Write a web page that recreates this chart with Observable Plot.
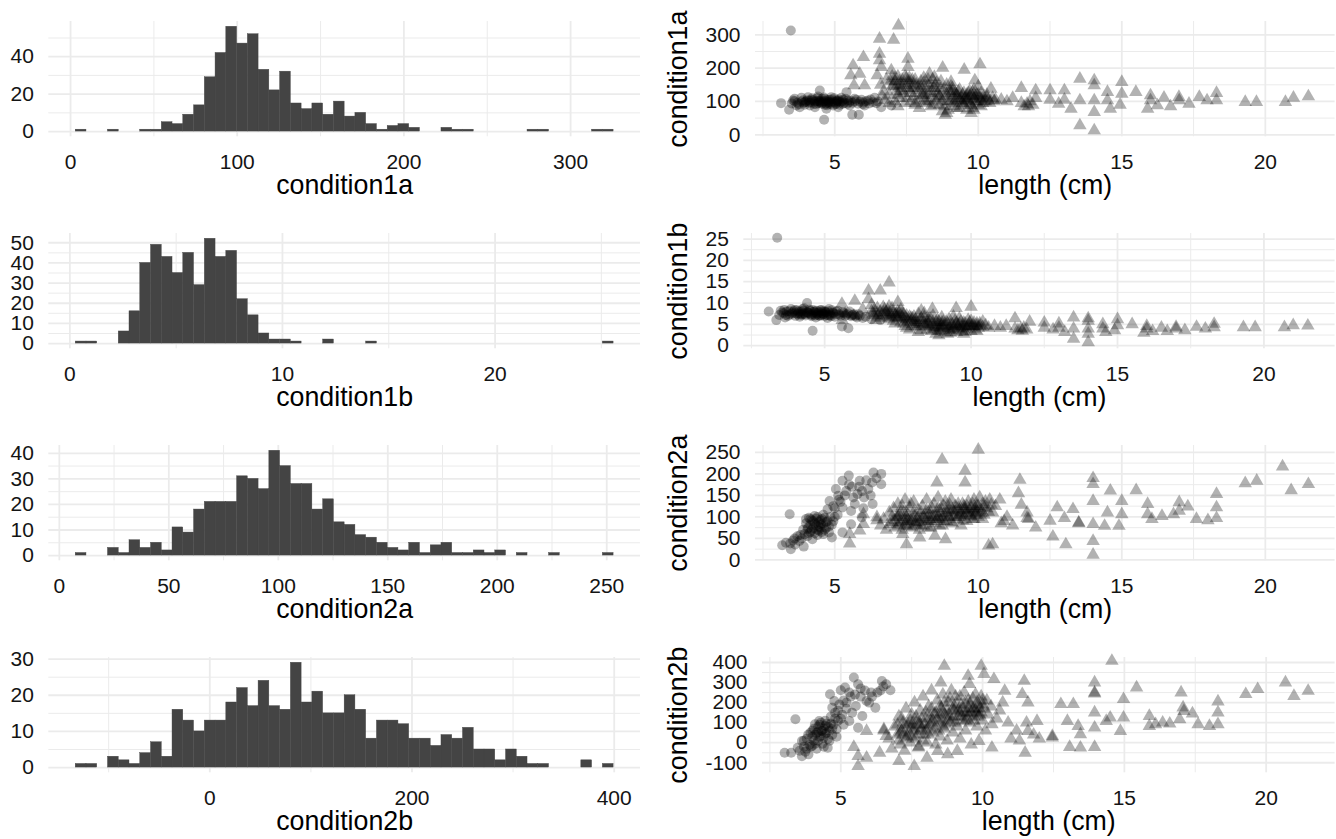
<!DOCTYPE html>
<html><head><meta charset="utf-8">
<script src="https://cdn.jsdelivr.net/npm/d3@7"></script>
<script src="https://cdn.jsdelivr.net/npm/@observablehq/plot@0.6"></script>
<style>
body{margin:0;background:#fff;}
#fig{position:relative;width:1336px;height:839px;overflow:hidden;background:#fff;}
#fig svg{position:absolute;overflow:visible;}
</style></head><body><div id="fig"></div>
<script>
// ---------- histogram data (50 bins each) ----------
const c1aCounts = [1,0,0,1,0,0,1,1,5,4, 9,14,29,42,56,47,52,33,22,32, 15,12,15,9,16,8,10,4,1,3, 4,2,0,0,2,1,1,0,0,0, 0,0,1,1,0,0,0,0,1,1];
const c1aStart = 3.1, c1aWidth = 6.454;
const c1bCounts = [1,1,0,0,6,16,40,49,43,35, 45,29,52,43,46,22,14,5,2,2, 1,0,0,2,0,0,0,1,0,0, 0,0,0,0,0,0,0,0,0,0, 0,0,0,0,0,0,0,0,0,1];
const c1bStart = 0.275, c1bWidth = 0.506;
const c2aCounts = [1,0,0,3,1,6,3,5,2,11, 9,18,21,21,21,31,30,26,41,35, 28,28,18,22,13,12,8,7,5,3, 2,5,1,4,5,1,1,2,1,2, 0,1,0,0,1,0,0,0,0,1];
const c2aStart = 7.48, c2aWidth = 4.913;
const c2bCounts = [1,1,0,3,2,1,4,7,3,16, 13,10,13,13,18,22,17,24,17,16, 29,18,21,15,15,20,16,8,13,13, 12,8,8,6,9,8,11,5,5,2, 5,3,1,1,0,0,0,2,0,1];
const c2bStart = -132.6, c2bWidth = 10.64;

// ---------- scatter data: [length (cm), value] ----------
const s1aCirc = [[3.13,95],[3.47,313],[3.41,75],[3.55,103],[3.67,88],[3.84,111],[3.78,83],[3.96,98],[4.07,113],[4.13,88],[4.25,103],[4.31,83],[4.42,115],[4.48,133],[4.54,93],[4.63,45],[4.65,108],[4.71,78],[4.77,98],[4.88,113],[4.94,88],[5.06,103],[5.12,83],[5.23,111],[5.29,93],[5.41,128],[5.46,103],[5.52,88],[5.61,60],[5.84,60],[5.69,108],[5.81,93],[5.93,105],[6.04,88],[6.16,103],[6.33,98],[6.39,111],[6.62,83],[6.97,88],
[4.0,100],[4.1,96],[4.2,105],[4.3,99],[4.35,92],[4.45,102],[4.5,97],[4.55,108],[4.6,100],[4.7,94],[4.75,104],[4.8,99],[4.85,92],[4.9,106],[5.0,98],[5.05,94],[5.1,102],[5.2,97],[3.9,104],[3.7,96],[3.6,101],[3.5,94],[4.4,110],[4.65,90],[5.3,105],[5.5,98],[5.7,100],[6.0,97],[6.2,94],[6.5,100],
[3.6,108],[3.75,92],[3.85,100],[3.95,90],[4.05,104],[4.15,97],[4.22,110],[4.28,93],[4.38,101],[4.43,95],[4.52,103],[4.58,96],[4.62,112],[4.68,101],[4.73,89],[4.82,105],[4.87,97],[4.92,100],[4.98,110],[5.02,92],[5.08,99],[5.14,106],[5.18,90],[5.26,101],[5.33,96],[5.38,108],[5.44,93],[5.55,102],[5.62,96],[5.75,105],[5.88,99],[5.98,92],[6.08,101],[6.25,106],[6.45,95],[4.12,102],[4.47,99],[4.78,94],[5.15,100],[3.92,96]];
const s1aTri = [[7.22,328],[6.56,288],[7.05,285],[6.56,243],[6.56,223],[6.62,203],[5.64,208],[6.0,233],[7.55,228],[7.55,203],[5.56,178],[5.87,183],[5.67,148],[6.04,148],[6.48,178],[6.97,193],[8.76,201],[9.51,195],[10.06,211],[9.88,163],[8.3,183],[8.47,173],[9.05,158],[10.44,138],
[6.6,150],[6.7,130],[6.8,165],[6.9,120],[7.0,175],[7.0,145],[6.75,105],[6.9,95],[6.65,115],
[7.1,160],[7.15,130],[7.2,175],[7.25,110],[7.3,150],[7.35,165],[7.4,125],[7.45,95],[7.1,100],[7.2,85],[7.3,140],[7.5,170],
[7.55,155],[7.6,135],[7.65,100],[7.7,165],[7.75,115],[7.8,90],[7.85,150],[7.9,125],[7.95,80],[7.6,170],[7.7,140],[8.0,160],
[8.05,135],[8.1,170],[8.15,110],[8.2,95],[8.25,150],[8.3,125],[8.35,85],[8.4,165],[8.45,140],[8.5,105],[8.1,120],[8.3,100],
[8.55,155],[8.6,125],[8.65,90],[8.7,140],[8.75,70],[8.8,115],[8.85,60],[8.9,150],[8.95,100],[9.0,130],[8.6,110],[8.8,85],[8.9,65],
[9.05,145],[9.1,110],[9.15,95],[9.2,125],[9.25,80],[9.3,115],[9.35,135],[9.4,100],[9.45,120],[9.5,90],[9.1,130],[9.3,105],
[9.55,110],[9.6,75],[9.65,125],[9.7,95],[9.75,65],[9.8,115],[9.85,135],[9.9,100],[9.95,120],[10.0,90],[9.6,105],[9.8,80],[10.0,145],[9.7,130],
[10.05,110],[10.1,125],[10.15,95],[10.2,115],[10.25,100],[10.3,120],[10.35,105],[10.4,95],[10.5,110],[10.55,100],[10.6,105],[10.1,85],
[6.95,160],[7.05,150],[7.1,170],[7.15,145],[7.25,160],[7.3,130],[7.4,150],[7.45,175],[7.55,140],[7.6,160],[7.65,125],[7.75,150],[7.8,165],[7.9,140],[7.95,105],[8.0,145],[8.05,120],[8.1,155],[8.2,130],[8.25,165],[8.35,140],[8.4,120],[8.5,150],[8.55,130],[8.65,115],[8.7,160],[8.8,135],[8.9,120],[9.0,100],[9.05,125],[9.1,140],[9.2,105],[9.25,118],[9.3,130],[9.4,110],[9.45,95],[9.5,125],[9.55,100],[9.6,120],[9.65,105],[9.7,115],[9.75,90],[9.8,128],[9.85,108],[9.9,115],[9.95,100],[10.0,120],[10.1,108],[10.2,100],[10.3,112],[7.2,120],[7.5,110],[7.8,95],[8.15,100],[8.45,90],[8.75,100],[9.15,85],[9.35,80],[8.95,75],[9.85,75],
[10.8,105],[11.0,100],[11.2,110],[11.5,140],[11.5,95],[11.6,85],[11.7,93],[11.75,85],[11.8,100],[11.9,90],[12.0,133],[12.0,110],[12.5,133],[12.5,105],[12.8,93],[13.0,133],[13.0,105],[13.23,78],[13.54,168],[13.54,103],[13.54,28],[14.04,163],[14.04,148],[14.04,103],[14.04,68],[14.04,13],[14.5,128],[14.5,103],[14.6,78],[15.0,158],[15.0,123],[14.94,90],[15.49,128],[16.0,118],[16.0,103],[15.9,78],[16.24,88],[16.47,111],[16.7,85],[16.99,113],[17.0,103],[17.34,93],[17.7,113],[17.97,103],[18.3,125],[18.3,103],[19.3,98],[19.69,98],[20.7,98],[20.98,111],[21.5,115]];

const s1bCirc = [[3.09,8.0],[3.38,25.3],[3.35,6.0],[3.45,7.2],[3.5,8.2],[3.6,7.6],[3.65,6.6],[3.7,8.0],[3.8,7.3],[3.85,8.6],[3.9,7.8],[4.0,7.0],[4.05,8.3],[4.1,7.6],[4.15,6.8],[4.2,8.0],[4.25,7.4],[4.3,8.8],[4.35,7.1],[4.4,10.0],[4.45,7.7],[4.5,8.2],[4.55,6.9],[4.59,3.5],[4.6,7.5],[4.65,8.0],[4.7,6.6],[4.75,7.3],[4.8,7.9],[4.85,7.0],[4.9,8.4],[4.95,7.4],[5.0,7.0],[5.05,7.8],[5.1,6.5],[5.15,8.6],[5.2,7.2],[5.3,7.6],[5.35,6.8],[5.4,8.0],[5.5,7.3],[5.59,4.5],[5.6,7.9],[5.7,7.0],[5.81,4.1],[5.8,7.6],[5.9,6.9],[6.0,7.4],[6.1,6.6],[6.2,7.0],[6.3,6.5],[6.4,6.8],[6.6,6.2],[6.9,6.0],
[4.0,7.6],[4.2,7.2],[4.4,7.9],[4.6,8.4],[4.8,7.1],[5.0,8.1],[4.3,7.7],[4.7,7.7],[3.95,8.1],[4.9,7.6],[5.25,8.3],[3.75,7.0],
[3.55,7.8],[3.68,7.2],[3.78,8.1],[3.88,7.5],[3.98,8.4],[4.08,7.3],[4.12,8.0],[4.18,7.5],[4.28,8.2],[4.33,7.4],[4.42,7.7],[4.48,8.5],[4.52,7.3],[4.62,7.9],[4.68,7.1],[4.72,8.2],[4.78,7.6],[4.88,7.2],[4.92,8.0],[4.98,7.5],[5.02,7.9],[5.08,7.2],[5.12,8.1],[5.18,7.6],[5.22,6.9],[5.28,7.8],[5.38,7.4],[5.45,8.2],[5.55,7.0],[5.65,7.7],[5.75,7.3],[5.85,8.0],[5.95,7.2],[6.05,6.9],[6.15,7.4],[4.25,8.6],[4.55,7.2],[4.85,8.3],[5.15,7.1],[3.62,8.4]];
const s1bTri = [[7.2,14.8],[6.9,12.9],[6.5,12.9],[6.5,10.9],[6.03,10.5],[5.59,9.8],[7.5,10.2],[8.68,8.6],[9.49,8.8],[10.0,9.1],[8.3,8.2],[5.7,7.5],[6.0,7.0],[5.6,6.0],[6.3,8.5],[6.6,9.5],
[6.6,8.0],[6.7,7.2],[6.8,8.8],[6.9,6.5],[7.0,7.8],[6.75,6.0],[6.65,7.5],[7.0,9.0],
[7.1,7.0],[7.15,8.3],[7.2,6.2],[7.25,7.6],[7.3,8.8],[7.35,5.8],[7.4,7.2],[7.45,6.6],[7.5,8.0],[7.2,9.2],[7.4,5.2],
[7.55,6.8],[7.6,5.5],[7.65,7.6],[7.7,6.2],[7.75,4.6],[7.8,7.0],[7.85,5.8],[7.9,3.8],[7.95,6.5],[8.0,5.0],[7.6,8.4],[7.8,4.2],
[8.05,6.8],[8.1,5.4],[8.15,4.4],[8.2,7.4],[8.25,6.0],[8.3,3.6],[8.35,5.2],[8.4,6.6],[8.45,4.6],[8.5,5.8],[8.2,3.2],[8.4,7.6],
[8.55,5.0],[8.6,6.4],[8.65,3.4],[8.7,5.6],[8.75,4.2],[8.8,2.8],[8.85,6.0],[8.9,4.8],[8.95,3.6],[9.0,5.4],[8.7,7.0],[8.9,2.4],[9.0,6.6],
[9.05,4.4],[9.1,3.2],[9.15,5.6],[9.2,4.0],[9.25,6.2],[9.3,3.6],[9.35,5.0],[9.4,4.4],[9.45,5.8],[9.5,3.2],[9.2,2.8],[9.4,6.8],
[9.55,4.8],[9.6,3.8],[9.65,5.6],[9.7,4.2],[9.75,2.8],[9.8,5.2],[9.85,4.0],[9.9,6.0],[9.95,4.6],[10.0,3.4],[9.6,6.4],[9.8,3.2],[10.0,5.8],
[10.05,4.6],[10.1,5.4],[10.15,3.8],[10.2,4.8],[10.25,4.2],[10.3,5.2],[10.4,4.4],[10.5,4.8],[10.6,4.2],[10.8,4.6],[10.2,3.4],[10.4,5.6],
[6.7,8.4],[6.8,7.6],[6.9,8.0],[7.0,7.2],[7.05,8.5],[7.1,7.8],[7.2,7.4],[7.3,6.8],[7.35,7.8],[7.45,7.4],[7.5,6.5],[7.55,7.8],[7.65,6.6],[7.7,7.4],[7.8,6.2],[7.9,6.8],[7.95,5.6],[8.0,6.4],[8.1,6.0],[8.15,5.5],[8.25,5.0],[8.3,6.4],[8.4,5.4],[8.5,4.8],[8.55,6.2],[8.6,4.4],[8.7,5.0],[8.75,3.8],[8.8,5.4],[8.85,4.4],[8.9,5.6],[8.95,4.2],[9.0,4.8],[9.05,5.6],[9.1,4.6],[9.2,5.2],[9.25,4.0],[9.3,4.8],[9.4,3.8],[9.45,4.6],[9.5,5.2],[9.55,4.2],[9.6,5.0],[9.7,4.6],[9.75,5.4],[9.8,4.4],[9.9,4.8],[9.95,5.4],[10.0,4.4],[10.1,4.6],[10.2,5.2],[10.3,4.6],[8.9,3.4],[9.3,3.0],[9.7,3.4],[8.5,3.8],[8.1,4.6],[7.7,5.2],[7.2,6.6],[6.8,6.8],
[11.0,4.2],[11.2,4.6],[11.5,6.4],[11.5,4.0],[11.6,3.6],[11.7,4.0],[11.75,3.5],[11.8,4.2],[11.9,3.8],[12.0,5.6],[12.5,5.4],[12.5,4.2],[12.8,3.8],[13.0,5.2],[13.0,4.2],[13.2,3.2],[13.5,6.6],[13.5,4.0],[13.5,1.6],[14.0,6.4],[14.0,5.8],[14.0,4.0],[14.0,2.8],[14.0,0.8],[14.5,5.0],[14.5,4.0],[14.6,3.2],[15.0,6.2],[15.0,4.8],[14.9,3.6],[15.5,5.0],[16.0,4.6],[16.0,4.0],[15.9,3.0],[16.2,3.4],[16.5,4.2],[16.7,3.4],[17.0,4.4],[17.0,4.0],[17.3,3.6],[17.7,4.4],[18.0,4.0],[18.3,5.1],[18.3,4.3],[19.3,4.3],[19.7,4.3],[20.7,4.3],[21.0,4.8],[21.5,4.7]];

const s2aCirc = [[3.17,34],[3.47,25],[3.62,36],[3.77,44],[3.92,31],[3.43,106],[4.07,75],[4.15,95],[4.3,102],[4.45,68],[4.52,83],[4.6,60],[4.75,118],[4.82,137],[5.04,165],[5.12,149],[5.27,184],[5.49,196],[5.27,122],[5.57,114],[5.87,184],[5.79,153],[6.02,145],[6.17,165],[6.35,203],[6.62,200],[6.62,176],[6.32,130],[5.94,99],[5.57,83],[5.27,64],[4.9,52],[4.22,48],
[3.95,60],[4.0,85],[4.05,55],[4.1,98],[4.2,70],[4.25,90],[4.3,62],[4.35,80],[4.4,100],[4.45,88],[4.5,75],[4.55,95],[4.6,105],[4.65,70],[4.7,88],[4.8,78],[4.85,100],[4.95,90],[5.0,120],[5.1,105],[3.85,50],[3.7,55],[3.55,45],[3.3,40],[4.4,58],[4.15,65],[5.2,135],[5.4,160],[5.6,170],[5.95,160],[6.1,185],[6.45,190],[5.7,130],[6.0,120],[6.25,150],
[3.9,70],[4.0,95],[4.05,72],[4.1,62],[4.15,82],[4.2,92],[4.25,74],[4.3,85],[4.35,96],[4.4,70],[4.45,78],[4.5,92],[4.55,65],[4.6,84],[4.65,98],[4.7,75],[4.75,90],[4.8,64],[4.9,82],[5.0,100],[3.8,58],[3.6,50],[3.45,38],[4.95,125],[5.15,140],[5.35,150],[5.5,175],[5.65,145],[5.85,170],[6.3,180]];
const s2aTri = [[5.52,38],[5.52,60],[5.87,68],[6.0,83],[6.0,106],[6.47,99],[6.47,92],[6.92,83],
[8.74,233],[9.54,207],[9.54,180],[10.0,256],[10.36,33],[10.5,36],[7.5,36],[7.96,52],[7.37,60],[8.49,56],[8.86,48],[8.56,180],
[6.6,80],[6.7,95],[6.8,70],[6.9,110],[7.0,88],[7.05,120],[7.1,75],[7.15,100],[7.2,130],[7.25,85],[7.3,110],[7.35,70],[7.4,95],[7.45,140],[7.5,80],[7.55,105],[7.6,120],[7.65,90],[7.7,75],[7.75,135],[7.8,100],[7.85,85],[7.9,115],[7.95,70],[8.0,95],[8.05,125],[8.1,80],[8.15,105],[8.2,140],[8.25,90],[8.3,115],[8.35,75],[8.4,100],[8.45,130],[8.5,85],[8.55,110],[8.6,145],[8.65,95],[8.7,120],[8.75,80],[8.8,105],[8.85,135],[8.9,90],[8.95,115],[9.0,100],[9.05,140],[9.1,85],[9.15,110],[9.2,125],[9.25,95],[9.3,120],[9.35,105],[9.4,80],[9.45,130],[9.5,100],[9.55,115],[9.6,90],[9.65,135],[9.7,105],[9.75,120],[9.8,95],[9.85,140],[9.9,110],[9.95,125],[10.0,100],[10.05,145],[10.1,115],[10.15,130],[10.2,105],[10.3,120],[10.4,140],[10.5,110],[10.6,125],[10.75,140],[10.9,90],
[7.5,90],[7.8,88],[8.0,110],[8.3,95],[8.6,100],[9.0,115],[9.3,100],[9.6,110],[9.9,120],[7.2,100],[8.8,90],[9.5,125],
[7.0,100],[7.1,92],[7.2,80],[7.25,105],[7.3,88],[7.4,110],[7.45,82],[7.5,100],[7.55,92],[7.6,78],[7.7,96],[7.75,110],[7.8,82],[7.9,98],[7.95,88],[8.0,80],[8.1,100],[8.15,92],[8.2,115],[8.3,105],[8.35,90],[8.4,118],[8.5,100],[8.55,95],[8.6,120],[8.7,108],[8.75,98],[8.8,125],[8.9,110],[8.95,100],[9.0,128],[9.1,118],[9.15,100],[9.2,112],[9.3,130],[9.35,115],[9.4,105],[9.5,118],[9.55,108],[9.6,125],[9.7,115],[9.75,102],[9.8,130],[9.85,118],[9.9,105],[9.95,112],[10.0,125],[10.1,108],[10.2,122],[10.25,135],[10.35,112],[10.45,128],[7.35,125],[7.65,130],[8.25,75],[8.65,80],[9.05,88],[9.45,92],[9.85,95],[10.15,95],
[11.4,155],[11.45,186],[11.5,128],[11.7,110],[11.7,97],[11.75,95],[12.0,75],[12.5,91],[12.6,54],[12.75,122],[13.0,97],[13.3,118],[13.05,36],[13.5,87],[13.5,85],[14.0,190],[14.0,176],[14.0,137],[14.0,83],[14.0,44],[14.0,12],[14.6,161],[14.5,110],[14.4,79],[15.0,137],[15.0,106],[14.9,79],[15.5,162],[15.9,130],[15.9,106],[16.05,95],[16.4,102],[16.8,106],[17.0,134],[17.0,114],[17.3,124],[17.6,95],[18.0,92],[18.3,153],[18.3,122],[18.3,97],[19.3,178],[19.7,184],[20.6,217],[20.9,162],[21.5,176],[10.8,85],[11.0,100],[11.2,80]];

const s2bCirc = [[3.02,-50],[3.25,-50],[3.4,117],[3.48,-25],[3.63,-67],[3.86,-58],[3.63,8],[3.93,50],[4.09,92],[4.24,108],[4.32,58],[4.39,25],[4.54,-25],[4.62,242],[4.7,175],[4.77,208],[5.0,262],[5.15,275],[5.46,325],[5.3,250],[5.53,183],[5.3,108],[4.85,67],[5.61,292],[5.91,208],[6.07,250],[6.29,250],[6.45,308],[6.6,292],[6.75,262],[6.22,175],[5.76,133],[5.61,75],
[3.7,-20],[3.8,20],[3.9,-10],[4.0,60],[4.05,10],[4.1,40],[4.15,-30],[4.2,80],[4.25,30],[4.3,100],[4.35,-5],[4.4,70],[4.45,45],[4.5,95],[4.55,20],[4.6,60],[4.65,130],[4.7,40],[4.75,90],[4.8,150],[4.9,110],[4.95,190],[5.05,140],[5.2,200],[3.55,-40],[3.75,-45],[4.0,-15],[4.2,55],[4.45,85],[5.1,90],[5.4,150],[5.7,230],[5.85,260],[6.0,200],[6.4,260],
[3.7,10],[3.8,-30],[3.85,40],[3.95,-20],[4.0,30],[4.05,70],[4.1,-5],[4.15,50],[4.2,10],[4.25,90],[4.3,35],[4.35,60],[4.4,-20],[4.45,110],[4.5,50],[4.55,80],[4.6,10],[4.65,95],[4.7,70],[4.8,120],[4.85,30],[4.9,160],[5.0,120],[5.1,210],[5.2,170],[5.35,230],[5.5,240],[5.7,270],[6.1,230],[6.5,280]];
const s2bTri = [[5.46,-22],[5.61,-67],[5.61,-117],[5.91,-75],[5.91,58],[6.37,-50],[6.52,67],[6.52,60],[6.6,33],[7.05,-92],[7.59,-117],[8.04,-75],[7.74,-25],[8.65,383],[8.53,300],[9.49,333],[9.54,292],[9.95,383],[10.05,342],[10.4,317],[10.78,258],[10.71,200],[10.33,92],[10.33,-25],[9.87,8],[9.11,-42],[8.77,-58],[8.42,-42],
[6.7,20],[6.8,-30],[6.9,80],[7.0,40],[7.05,130],[7.1,-10],[7.15,60],[7.2,100],[7.25,-40],[7.3,170],[7.35,30],[7.4,90],[7.45,0],[7.5,140],[7.55,60],[7.6,200],[7.65,20],[7.7,110],[7.75,-20],[7.8,160],[7.85,70],[7.9,230],[7.95,40],[8.0,120],[8.05,0],[8.1,180],[8.15,90],[8.2,260],[8.25,50],[8.3,140],[8.35,-10],[8.4,210],[8.45,100],[8.5,30],[8.55,170],[8.6,240],[8.65,70],[8.7,130],[8.75,10],[8.8,200],[8.85,100],[8.9,260],[8.95,50],[9.0,160],[9.05,230],[9.1,80],[9.15,130],[9.2,20],[9.25,190],[9.3,110],[9.35,250],[9.4,60],[9.45,150],[9.5,210],[9.55,100],[9.6,-10],[9.65,170],[9.7,130],[9.75,240],[9.8,80],[9.85,190],[9.9,140],[9.95,230],[10.0,110],[10.05,170],[10.1,60],[10.15,210],[10.2,140],[10.3,180],[10.5,120],[10.6,160],[10.9,100],
[7.5,80],[8.0,60],[8.2,100],[8.5,140],[8.8,120],[9.0,180],[9.2,150],[9.5,140],[9.8,150],[10.0,190],[7.2,40],[7.8,90],[8.6,80],[9.4,110],[9.7,170],
[7.0,90],[7.05,10],[7.1,50],[7.15,120],[7.2,70],[7.3,20],[7.35,90],[7.4,50],[7.45,110],[7.5,30],[7.55,100],[7.6,70],[7.65,130],[7.7,40],[7.75,90],[7.8,60],[7.85,120],[7.9,10],[7.95,90],[8.0,150],[8.05,80],[8.1,40],[8.15,130],[8.2,170],[8.25,110],[8.3,70],[8.35,150],[8.4,120],[8.45,60],[8.5,180],[8.55,110],[8.6,150],[8.65,200],[8.7,90],[8.75,160],[8.8,140],[8.85,220],[8.9,110],[8.95,170],[9.0,130],[9.05,100],[9.1,190],[9.15,160],[9.2,230],[9.25,130],[9.3,170],[9.35,150],[9.4,200],[9.45,120],[9.5,170],[9.55,190],[9.6,150],[9.65,220],[9.7,110],[9.75,160],[9.8,200],[9.85,130],[9.9,170],[9.95,150],[10.0,210],
[14.56,408],[15.43,275],[13.95,300],[13.95,250],[13.95,245],[13.95,150],[13.95,75],[13.95,-22],[13.37,83],[13.45,42],[12.99,108],[13.07,-22],[13.45,-25],[12.76,192],[13.2,192],[12.46,33],[12.46,25],[11.92,108],[11.6,200],[11.55,100],[11.47,308],[11.6,58],[11.4,242],[11.5,-50],[14.36,108],[14.5,125],[14.86,58],[14.97,125],[14.97,217],[15.88,133],[15.88,83],[16.1,92],[16.35,100],[16.6,95],[16.95,117],[17.0,250],[17.07,175],[17.1,158],[17.4,145],[17.6,92],[18.0,83],[18.3,92],[18.3,150],[18.3,205],[19.28,242],[19.7,267],[20.68,300],[20.98,233],[21.48,258],[11.0,20],[11.3,10],[11.8,40],[12.0,20],[11.2,60]];

// ---------- ticks ----------
const lenMajor = [5,10,15,20], lenMinor = [2.5,7.5,12.5,17.5];

// ---------- layout / style ----------
const ROWH = 211.9, COLW = 668;
const PANEL_TOP = 21, PANEL_H = 115.3;
const MB = ROWH - PANEL_TOP - PANEL_H;
const FONT = "'Liberation Sans', Arial, Helvetica, sans-serif";
const GRID = "#EBEBEB", TICKC = "#141414";
const fig = document.getElementById("fig");
const fmt = d => String(d);

function grid(xMajor, xMinor, yMajor, yMinor) {
  return [
    Plot.ruleX(xMinor, {stroke: GRID, strokeWidth: 1}),
    Plot.ruleY(yMinor, {stroke: GRID, strokeWidth: 1}),
    Plot.ruleX(xMajor, {stroke: GRID, strokeWidth: 1.8}),
    Plot.ruleY(yMajor, {stroke: GRID, strokeWidth: 1.8})
  ];
}
function axes(xMajor, yMajor) {
  return [
    Plot.axisX(xMajor, {tickSize: 0, tickPadding: 17, fontSize: 21, tickFormat: fmt, label: null, fill: TICKC}),
    Plot.axisY(yMajor, {tickSize: 0, tickPadding: 15, fontSize: 21, tickFormat: fmt, label: null, fill: TICKC})
  ];
}
function place(svg, row, col) {
  svg.style.left = (col * COLW) + "px";
  svg.style.top = (row * ROWH) + "px";
  fig.appendChild(svg);
}

function hist(row, name, counts, start, width, xMajor, xMinor, yMajor, yMinor) {
  const bins = counts.map((c, i) => ({x1: start + i * width, x2: start + (i + 1) * width, n: c})).filter(d => d.n > 0);
  const a = start, b = start + counts.length * width, e = 0.05 * (b - a);
  const m = d3.max(counts);
  const svg = Plot.plot({
    width: COLW, height: ROWH,
    marginLeft: 48.3, marginRight: 28, marginTop: PANEL_TOP, marginBottom: MB,
    style: {fontFamily: FONT, background: "transparent"},
    x: {domain: [a - e, b + e]},
    y: {domain: [-0.05 * m, 1.05 * m]},
    marks: [
      ...grid(xMajor, xMinor, yMajor, yMinor),
      Plot.rectY(bins, {x1: "x1", x2: "x2", y: "n", fill: "#444444", stroke: "#444444", strokeWidth: 0.4, inset: 0}),
      ...axes(xMajor, yMajor),
      Plot.text([name], {text: d => d, frameAnchor: "bottom", dy: 57.3, fontSize: 26.8, fill: "#000"})
    ]
  });
  place(svg, row, 0);
}

function scatter(row, name, circ, tri, yDomain, yMajor, yMinor, mLeft) {
  const svg = Plot.plot({
    width: COLW, height: ROWH,
    marginLeft: mLeft, marginRight: 1.4, marginTop: PANEL_TOP, marginBottom: MB,
    style: {fontFamily: FONT, background: "transparent"},
    x: {domain: [2.24, 22.43]},
    y: {domain: yDomain},
    marks: [
      ...grid(lenMajor, lenMinor, yMajor, yMinor),
      Plot.dot(circ, {x: d => d[0], y: d => d[1], r: 5, symbol: "circle", fill: "#000", fillOpacity: 0.3}),
      Plot.dot(tri, {x: d => d[0], y: d => d[1], r: 5, symbol: d3.symbolTriangle, fill: "#000", fillOpacity: 0.3}),
      ...axes(lenMajor, yMajor),
      Plot.text(["length (cm)"], {text: d => d, frameAnchor: "bottom", dy: 57.3, fontSize: 26.8, fill: "#000"}),
      Plot.text([name], {text: d => d, frameAnchor: "left", textAnchor: "middle", rotate: -90, dx: 9.6 - mLeft, fontSize: 26.8, fill: "#000"})
    ]
  });
  place(svg, row, 1);
}

hist(0, "condition1a", c1aCounts, c1aStart, c1aWidth, [0,100,200,300], [50,150,250], [0,20,40], [10,30,50]);
hist(1, "condition1b", c1bCounts, c1bStart, c1bWidth, [0,10,20], [5,15,25], [0,10,20,30,40,50], [5,15,25,35,45]);
hist(2, "condition2a", c2aCounts, c2aStart, c2aWidth, [0,50,100,150,200,250], [25,75,125,175,225], [0,10,20,30,40], [5,15,25,35]);
hist(3, "condition2b", c2bCounts, c2bStart, c2bWidth, [0,200,400], [-100,100,300], [0,10,20,30], [5,15,25]);

scatter(0, "condition1a", s1aCirc, s1aTri, [-6, 340], [0,100,200,300], [50,150,250], 87);
scatter(1, "condition1b", s1bCirc, s1bTri, [-0.72, 26.3], [0,5,10,15,20,25], [2.5,7.5,12.5,17.5,22.5], 75.3);
scatter(2, "condition2a", s2aCirc, s2aTri, [-2, 266], [0,50,100,150,200,250], [25,75,125,175,225], 87);
scatter(3, "condition2b", s2bCirc, s2bTri, [-150, 425], [-100,0,100,200,300,400], [-50,50,150,250,350], 94);
</script></body></html>
